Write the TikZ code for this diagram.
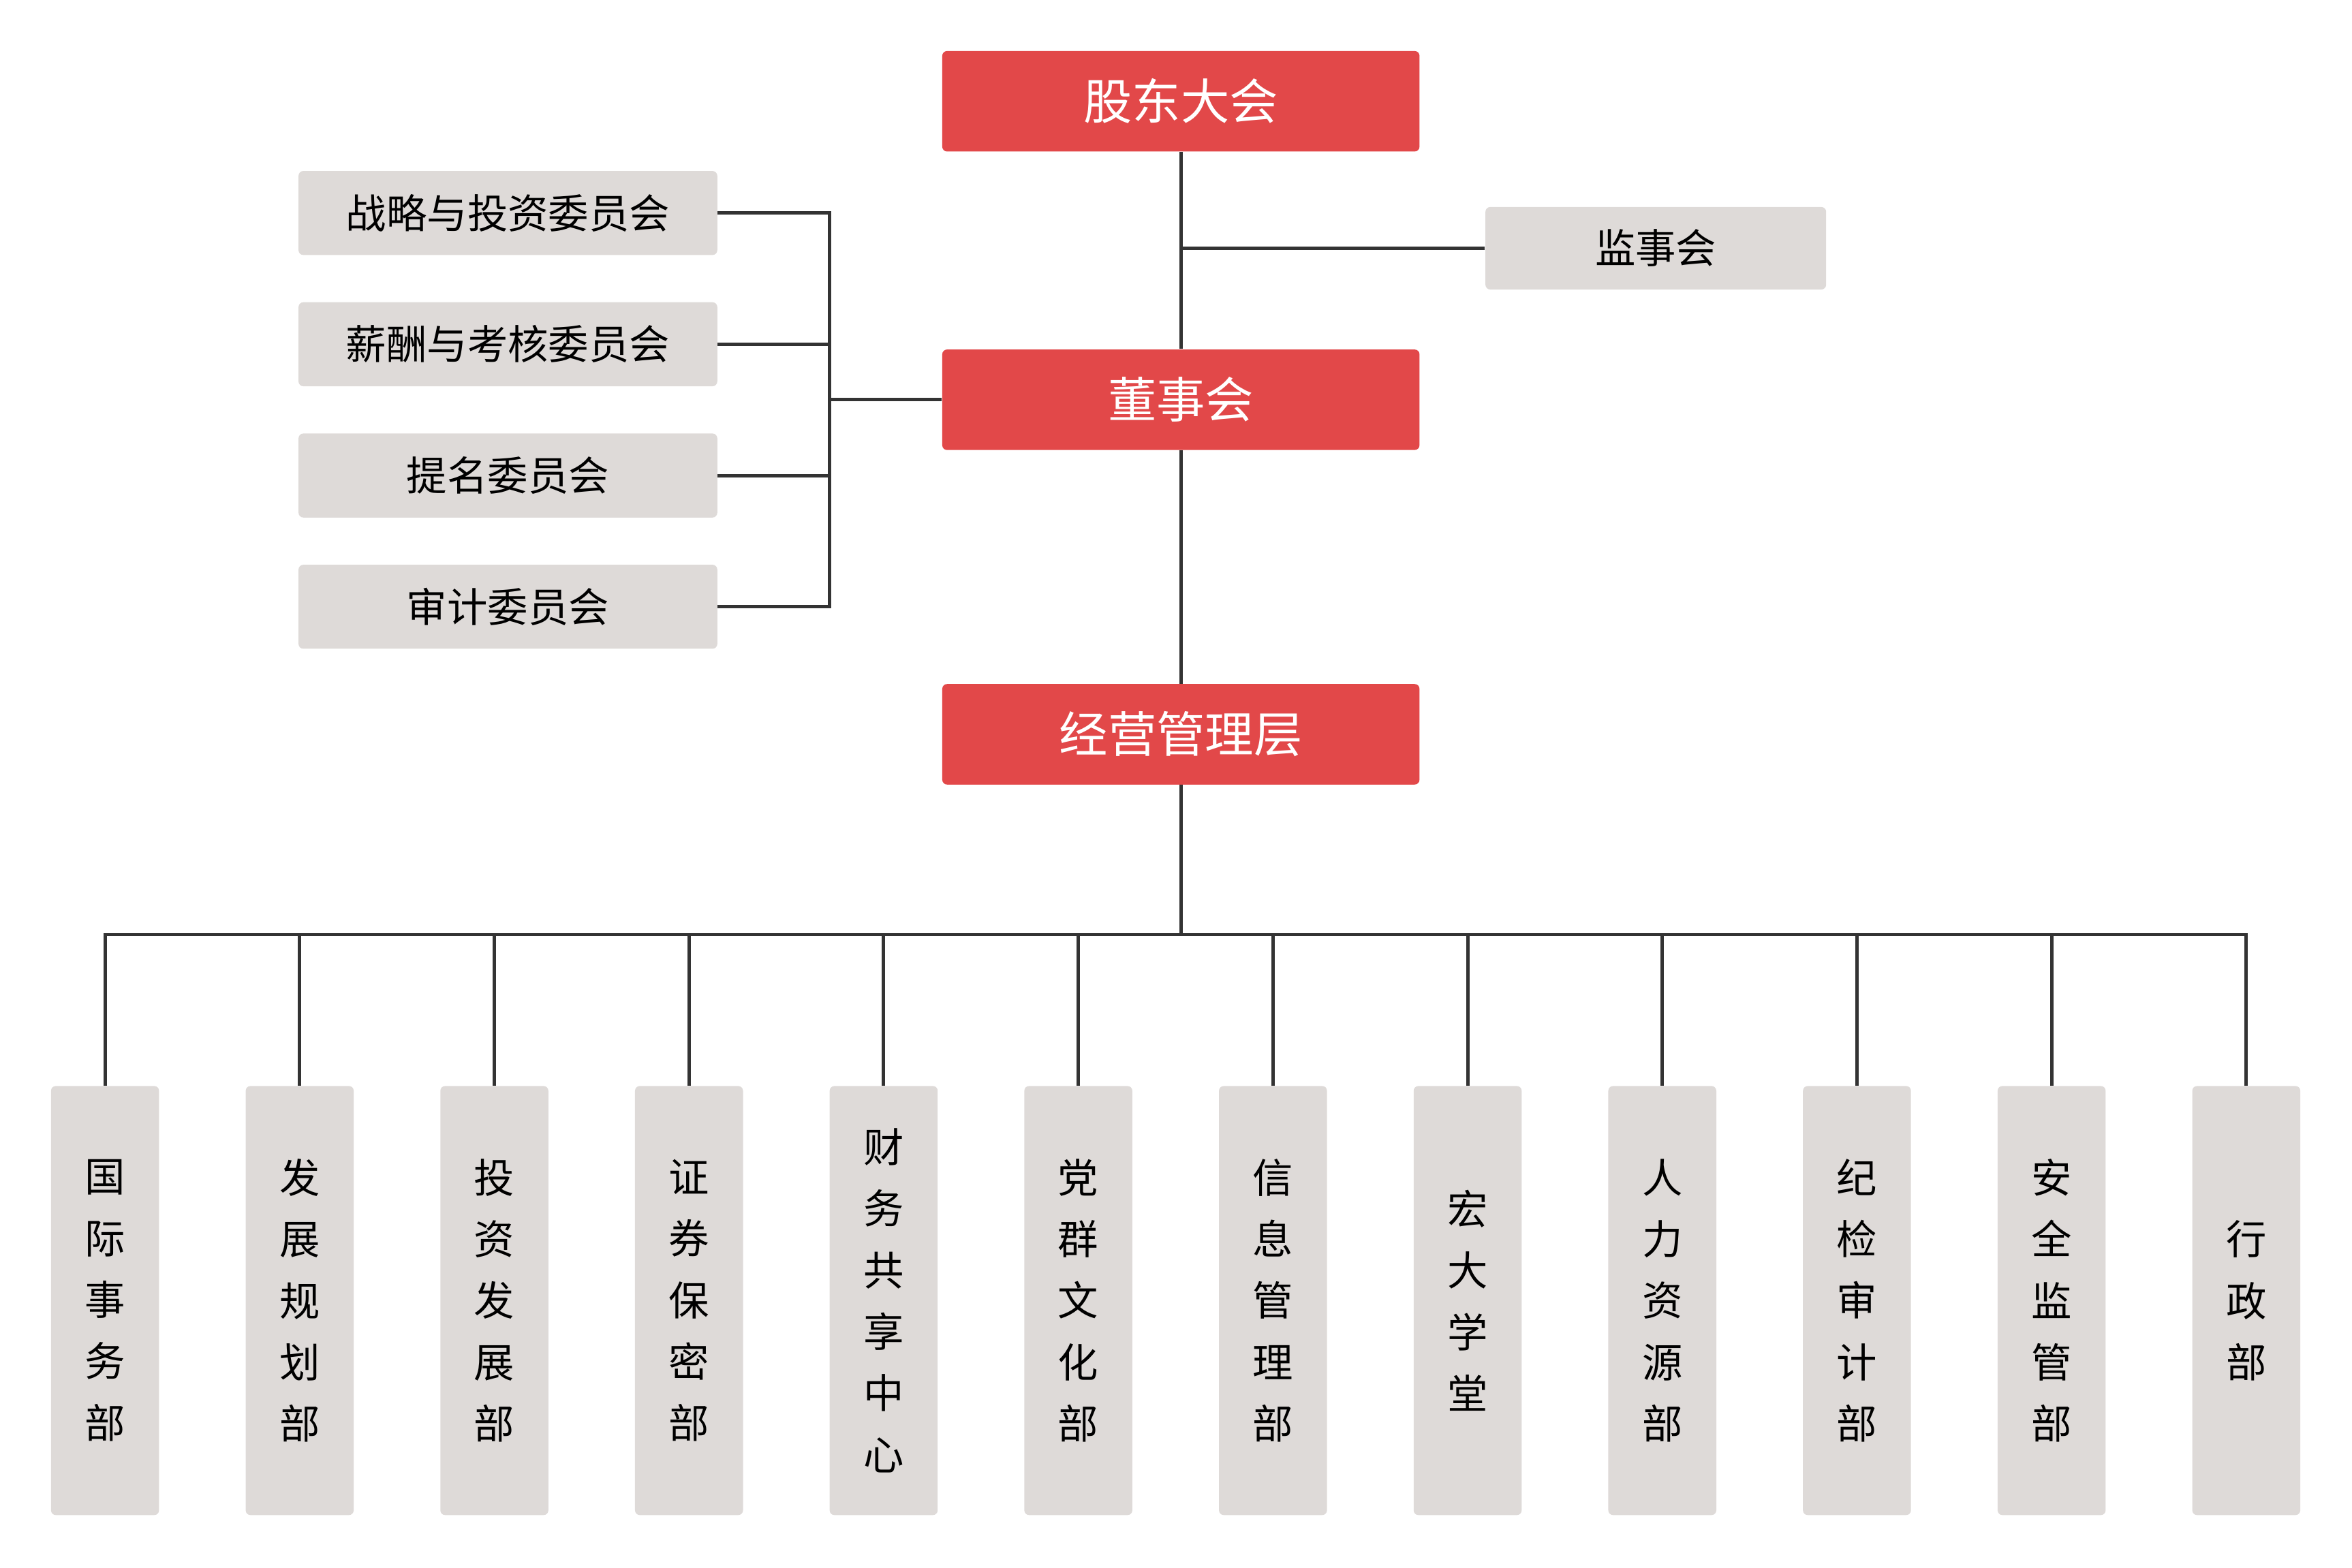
\documentclass[tikz,border=0pt]{standalone}
\usepackage{fontspec}
\newfontfamily\cjk{Noto Sans CJK SC}
\usetikzlibrary{positioning}

\definecolor{boardred}{HTML}{E24849}
\definecolor{boxgray}{HTML}{DEDAD8}
\definecolor{linegray}{HTML}{333333}

\tikzset{
	redbox/.style={fill=boardred, rounded corners=2pt, minimum width=7.003cm, minimum height=1.475cm,
		text=white, font=\cjk\fontsize{20.3pt}{24pt}\selectfont},
	graybox/.style={fill=boxgray, rounded corners=2pt, minimum width=6.145cm, minimum height=1.233cm,
		text=black, font=\cjk\fontsize{16.9pt}{20pt}\selectfont},
	deptbox/.style={fill=boxgray, rounded corners=2pt, minimum width=1.585cm, minimum height=6.298cm,
		text=black, align=center, font=\cjk\fontsize{16.9pt}{25.7pt}\selectfont},
	link/.style={draw=linegray, line width=1.4pt}
}

\begin{document}
\begin{tikzpicture}[x=0.022022cm, y=-0.022022cm]
	\useasboundingbox (0,0) rectangle (1567.5,1044.9);

	% top of the chart
	\node[redbox] (meeting) at (787,67.5) {股东大会};
	\node[redbox] (board) at (787,266.5) {董事会};
	\node[redbox] (mgmt) at (787,489.5) {经营管理层};
	\node[graybox, minimum width=4.999cm, minimum height=1.211cm] (super) at (1103.5,165.5) {监事会};

	% committees
	\node[graybox] (c1) at (338.5,142) {战略与投资委员会};
	\node[graybox] (c2) at (338.5,229.5) {薪酬与考核委员会};
	\node[graybox] (c3) at (338.5,317) {提名委员会};
	\node[graybox] (c4) at (338.5,404.5) {审计委员会};

	\draw[link] (meeting.south) -- (board.north);
	\draw[link] (board.south) -- (mgmt.north);
	\draw[link] (super.west) -- (super.west -| meeting.south);
	\coordinate (cbar) at (553,266.5);
	\draw[link] (cbar) -- (board.west);
	\foreach \c in {c1,c2,c3,c4}
		\draw[link] (\c.east) -| (cbar);

	% departments
	\coordinate (bus) at (787,623);
	\draw[link] (mgmt.south) -- (bus);
	\foreach \t [count=\i] in {
		{国\\际\\事\\务\\部}, {发\\展\\规\\划\\部}, {投\\资\\发\\展\\部}, {证\\券\\保\\密\\部},
		{财\\务\\共\\享\\中\\心}, {党\\群\\文\\化\\部}, {信\\息\\管\\理\\部}, {宏\\大\\学\\堂},
		{人\\力\\资\\源\\部}, {纪\\检\\审\\计\\部}, {安\\全\\监\\管\\部}, {行\\政\\部}}
	{
		\node[deptbox] (d\i) at ({70+(\i-1)*129.73},867) {\t};
		\draw[link] (d\i.north) |- (bus);
	}
\end{tikzpicture}
\end{document}
